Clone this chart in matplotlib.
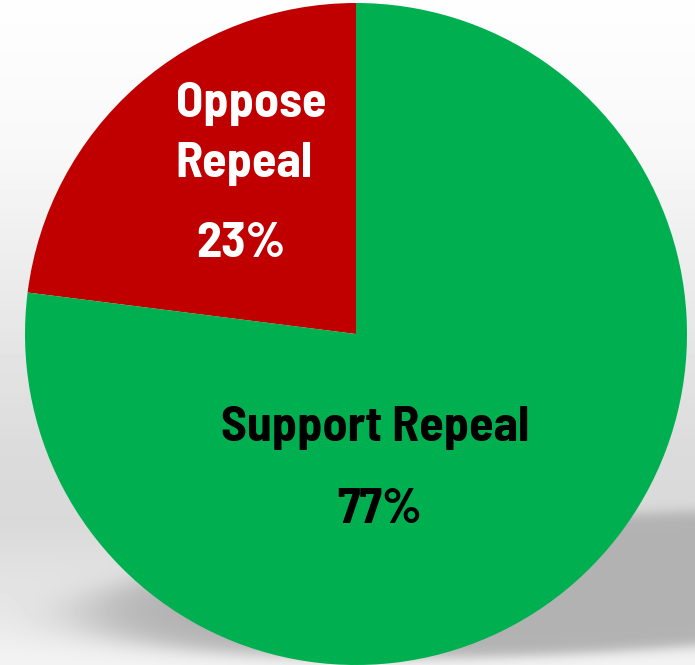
import numpy as np
import matplotlib.pyplot as plt

# poll result
labels = ['Oppose\nRepeal', 'Support Repeal']
shares = [23, 77]
colors = ['#C00000', '#00B050']
text_colors = ['white', 'black']

W, H, DPI = 695, 665, 100
fig = plt.figure(figsize=(W / DPI, H / DPI), dpi=DPI)

# background: soft vertical grey gradient + blurred shadow under the pie
yy, xx = np.mgrid[0:H, 0:W].astype(float)
stops_y = [0, 150, 300, 450, 520, 600, 665]
stops_v = [254, 248, 233, 219, 217, 230, 244]
bg = np.interp(yy, stops_y, stops_v)

cx, cy, a, b, ang = 610, 583, 540, 70, np.deg2rad(3.4)
dx, dy = xx - cx, yy - cy
u = dx * np.cos(ang) - dy * np.sin(ang)
v = dx * np.sin(ang) + dy * np.cos(ang)
r = np.sqrt((u / a) ** 2 + (v / b) ** 2)
alpha = 1 / (1 + np.exp((r - 0.97) / 0.05))
bg = bg * (1 - alpha) + 178 * alpha

bax = fig.add_axes([0, 0, 1, 1])
bax.imshow(bg, cmap='gray', vmin=0, vmax=255, extent=[0, W, H, 0], aspect='auto',
           interpolation='bilinear')
bax.axis('off')

# pie
R = 331
pcx, pcy = 356, 334
ax = fig.add_axes([(pcx - R) / W, 1 - (pcy + R) / H, 2 * R / W, 2 * R / H])
ax.pie(shares, colors=colors, startangle=90, counterclock=True, radius=1,
       wedgeprops=dict(linewidth=0))
ax.set_xlim(-1, 1)
ax.set_ylim(-1, 1)
ax.set_aspect('auto')
ax.axis('off')

fam = ['Barlow Semi Condensed', 'DejaVu Sans']
fs = 36

def put(txt, x, y, c):
    fig.text(x / W, 1 - y / H, txt, color=c, fontsize=fs, fontweight='bold',
             family=fam, ha='center', va='baseline')

put('Oppose', 251, 117, text_colors[0])
put('Repeal', 244, 177, text_colors[0])
put(f'{shares[0]}%', 241, 257, text_colors[0])
put(labels[1], 375, 441, text_colors[1])
put(f'{shares[1]}%', 380, 523, text_colors[1])

fig.savefig('out.png', dpi=DPI)
